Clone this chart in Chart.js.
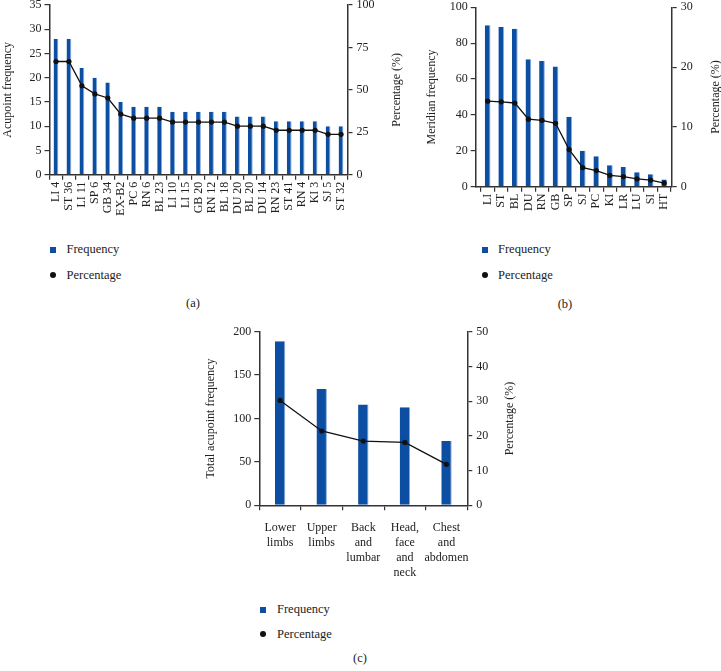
<!DOCTYPE html>
<html>
<head>
<meta charset="utf-8">
<script src="https://cdn.jsdelivr.net/npm/chart.js@4.4.1/dist/chart.umd.min.js"></script>
<style>
  body { margin: 0; background: #fff; width: 721px; height: 671px; position: relative; overflow: hidden; font-family: 'Liberation Serif', serif; color: #222; }
  canvas { position: absolute; }
  .lg { position: absolute; font-family: 'Liberation Serif', serif; font-size: 12.5px; line-height: 14px; white-space: nowrap; }
  .sq { position: absolute; width: 6px; height: 6px; background: #0b4ea2; }
  .dot { position: absolute; width: 6px; height: 6px; border-radius: 50%; background: #111; }
  .cap { position: absolute; font-family: 'Liberation Serif', serif; font-size: 12.5px; transform: translate(-50%, -50%); }
</style>
</head>
<body>
<canvas id="chartA" width="405" height="240" style="left:0;top:0"></canvas>
<canvas id="chartB" width="303" height="240" style="left:418px;top:0"></canvas>
<canvas id="chartC" width="320" height="270" style="left:200px;top:320px"></canvas>

<!-- legends (a) -->
<div class="sq" style="left:50px;top:246.5px"></div>
<div class="lg" style="left:66.5px;top:242px">Frequency</div>
<div class="dot" style="left:50px;top:272px"></div>
<div class="lg" style="left:66.5px;top:267.5px">Percentage</div>
<div class="cap" style="left:193px;top:303px">(a)</div>

<!-- legends (b) -->
<div class="sq" style="left:481.5px;top:246.5px"></div>
<div class="lg" style="left:498px;top:242px">Frequency</div>
<div class="dot" style="left:481.5px;top:272px"></div>
<div class="lg" style="left:498px;top:267.5px">Percentage</div>
<div class="cap" style="left:565px;top:304px">(b)</div>

<!-- legends (c) -->
<div class="sq" style="left:260px;top:606.5px"></div>
<div class="lg" style="left:277px;top:602px">Frequency</div>
<div class="dot" style="left:260px;top:631px"></div>
<div class="lg" style="left:277px;top:627px">Percentage</div>
<div class="cap" style="left:360px;top:658px">(c)</div>

<script>
// (a) acupoints
const acupoints = ['LI 4', 'ST 36', 'LI 11', 'SP 6', 'GB 34', 'EX-B2', 'PC 6', 'RN 6', 'BL 23', 'LI 10', 'LI 15', 'GB 20',
  'RN 12', 'BL 18', 'DU 20', 'BL 20', 'DU 14', 'RN 23', 'ST 41', 'RN 4', 'KI 3', 'SJ 5', 'ST 32'];
const acupointFreq = [28, 28, 22, 20, 19, 15, 14, 14, 14, 13, 13, 13, 13, 13, 12, 12, 12, 11, 11, 11, 11, 10, 10];
const acupointPct = [66.7, 66.7, 52.4, 47.6, 45.2, 35.7, 33.3, 33.3, 33.3, 31.0, 31.0, 31.0, 31.0, 31.0,
  28.6, 28.6, 28.6, 26.2, 26.2, 26.2, 26.2, 23.8, 23.8];

// (b) meridians
const meridians = ['LI', 'ST', 'BL', 'DU', 'RN', 'GB', 'SP', 'SJ', 'PC', 'KI', 'LR', 'LU', 'SI', 'HT'];
const meridianFreq = [90, 89, 88, 71, 70, 67, 39, 20, 17, 12, 11, 8, 7, 4];
const meridianPct = [14.3, 14.2, 14.0, 11.3, 11.1, 10.6, 6.2, 3.2, 2.7, 1.9, 1.7, 1.3, 1.1, 0.6];

// (c) body regions
const regions = [['Lower', 'limbs'], ['Upper', 'limbs'], ['Back', 'and', 'lumbar'], ['Head,', 'face', 'and', 'neck'], ['Chest', 'and', 'abdomen']];
const regionFreq = [189, 134, 116, 113, 74];
const regionPct = [30.2, 21.4, 18.5, 18.1, 11.8];

const ink = '#222';
const axisCol = '#333';
Chart.defaults.font.family = "'Liberation Serif', serif";
Chart.defaults.color = ink;

// right axis title reads bottom-to-top like the left one
const rightTitle = {
  id: 'rightTitle',
  afterDraw(chart, args, opts) {
    const sc = chart.scales.y1;
    const area = chart.chartArea;
    const ctx = chart.ctx;
    ctx.save();
    ctx.translate(sc.right - opts.offset, (area.top + area.bottom) / 2);
    ctx.rotate(-Math.PI / 2);
    ctx.font = "12px 'Liberation Serif', serif";
    ctx.fillStyle = ink;
    ctx.textAlign = 'center';
    ctx.textBaseline = 'middle';
    ctx.fillText(opts.text, 0, 0);
    ctx.restore();
  }
};

function comboChart(id, labels, freq, pct, s) {
  const tickGrid = { display: true, drawOnChartArea: false, drawTicks: true, tickLength: 5, color: axisCol, lineWidth: 1.2 };
  const border = { display: true, color: axisCol, width: 1.5 };
  return new Chart(document.getElementById(id), {
    data: {
      labels: labels,
      datasets: [
        {
          type: 'line', label: 'Percentage', data: pct, yAxisID: 'y1',
          borderColor: '#111', backgroundColor: '#111', borderWidth: 1.3,
          pointRadius: 2.6, pointBackgroundColor: '#111', pointBorderWidth: 0, tension: 0, order: 0
        },
        {
          type: 'bar', label: 'Frequency', data: freq, yAxisID: 'y',
          backgroundColor: '#0b4ea2', borderColor: '#86acdc',
          borderWidth: { left: 0, top: 0, bottom: 0, right: 1 }, borderSkipped: 'start',
          barPercentage: s.bar, categoryPercentage: 1, order: 1
        }
      ]
    },
    options: {
      responsive: false,
      animation: false,
      layout: { padding: { top: s.top, left: 0, right: 0, bottom: 0 } },
      plugins: {
        legend: { display: false },
        tooltip: { enabled: false },
        rightTitle: { text: 'Percentage (%)', offset: s.rOff }
      },
      scales: {
        x: {
          offset: true,
          grid: tickGrid,
          border: border,
          ticks: {
            autoSkip: false, maxRotation: s.rot, minRotation: s.rot, padding: s.xPad,
            color: ink, font: { size: 12, lineHeight: 1.25 }
          },
          afterBuildTicks: s.shift,
          afterFit(sc) { sc.height = s.xH; sc.paddingLeft = 0; sc.paddingRight = 0; }
        },
        y: {
          position: 'left', min: 0, max: s.yMax,
          grid: tickGrid,
          border: border,
          ticks: { stepSize: s.yStep, padding: 3, color: ink, font: { size: 12 } },
          title: { display: true, text: s.yTitle, color: ink, font: { size: 12 }, padding: { top: s.tPad, bottom: 0 } },
          afterFit(sc) { sc.width = s.yW; sc.paddingTop = 0; sc.paddingBottom = 0; }
        },
        y1: {
          position: 'right', min: 0, max: s.pMax,
          grid: tickGrid,
          border: border,
          ticks: { stepSize: s.pStep, padding: 4, color: ink, font: { size: 12 } },
          afterFit(sc) { sc.width = s.pW; sc.paddingTop = 0; sc.paddingBottom = 0; }
        }
      }
    },
    plugins: [rightTitle]
  });
}

comboChart('chartA', acupoints, acupointFreq, acupointPct, {
  bar: 0.37, top: 5, rot: 90, xPad: 2, xH: 65.3,
  yMax: 35, yStep: 5, yTitle: 'Acupoint frequency', tPad: 1, yW: 49.5,
  pMax: 100, pStep: 25, pW: 57.5, rOff: 8.3
});

comboChart('chartB', meridians, meridianFreq, meridianPct, {
  bar: 0.42, top: 7.3, rot: 90, xPad: 2, xH: 53.3,
  // leave a wider gap before the first bar, like the original
  shift(sc) { sc._startValue = -0.88; sc._valueRange = 14.43; },
  yMax: 100, yStep: 20, yTitle: 'Meridian frequency', tPad: 6.5, yW: 57.7,
  pMax: 30, pStep: 10, pW: 49.3, rOff: 5
});

comboChart('chartC', regions, regionFreq, regionPct, {
  bar: 0.25, top: 11.7, rot: 0, xPad: 10.5, xH: 84.7,
  yMax: 200, yStep: 50, yTitle: 'Total acupoint frequency', tPad: 3.5, yW: 59.3,
  pMax: 50, pStep: 10, pW: 52.7, rOff: 10
});
</script>
</body>
</html>
